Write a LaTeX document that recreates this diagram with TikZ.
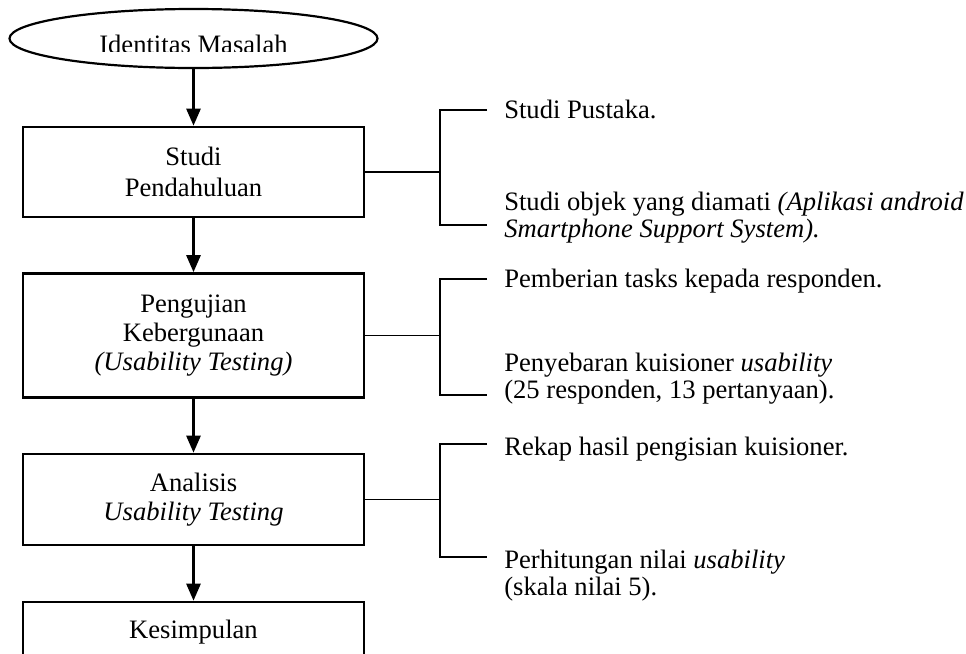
\documentclass[tikz,border=0pt]{standalone}
\usepackage{fontspec}
\setmainfont{Liberation Serif}
\usetikzlibrary{arrows.meta,shapes.geometric}

\begin{document}
\begin{tikzpicture}[x=0.5pt,y=-0.5pt,>={Triangle[length=8.5pt,width=7pt]},line width=1.3pt]
    \tikzstyle{stepbox}=[draw, rectangle, minimum width=170.5pt, align=center, inner sep=0pt, font=\fontsize{13.3}{14.6}\selectfont]
    \tikzstyle{start}=[draw, ellipse, line width=1.1pt, minimum width=184pt, minimum height=29.5pt, inner sep=0pt]
    \tikzstyle{note}=[anchor=base west, align=left, inner sep=0pt, font=\fontsize{13.3}{13.2}\selectfont]
    \tikzstyle{brace}=[line width=0.9pt]

    \useasboundingbox (0,0) rectangle (966,654);

    % alur penelitian
    \node[start] (id) at (193.5,38.5) {};
    \begin{scope}
      \clip (0,0) rectangle (966,51);
      \node[anchor=base, inner sep=0pt, font=\fontsize{13.3}{14.6}\selectfont] (idtext) at (193.5,53) {Identitas Masalah};
    \end{scope}
    \node[stepbox, minimum height=45pt]   (studi)    at (193.5,172)   {Studi\\[1pt]Pendahuluan};
    \node[stepbox, minimum height=62pt]   (uji)      at (193.5,335.5) {Pengujian\\Kebergunaan\\\textit{(Usability Testing)}};
    \node[stepbox, minimum height=45.5pt] (analisis) at (193.5,499.5) {Analisis\\\textit{Usability Testing}};
    \node[stepbox, minimum height=30pt]   (simpul)   at (193.5,632)   {Kesimpulan};
    \path
     (id)       edge[->] (studi)
     (studi)    edge[->] (uji)
     (uji)      edge[->] (analisis)
     (analisis) edge[->] (simpul)
     ;

    % kurung rincian
    \coordinate (studiM) at (440,172);
    \coordinate (studiT) at (440,110);   \coordinate (studiTe) at (487,110);
    \coordinate (studiB) at (440,225);   \coordinate (studiBe) at (487,225);
    \coordinate (ujiM) at (440,335.5);
    \coordinate (ujiT) at (440,279);     \coordinate (ujiTe) at (487,279);
    \coordinate (ujiB) at (440,395);     \coordinate (ujiBe) at (487,395);
    \coordinate (analisisM) at (440,499.5);
    \coordinate (analisisT) at (440,444); \coordinate (analisisTe) at (487,444);
    \coordinate (analisisB) at (440,557); \coordinate (analisisBe) at (487,557);

    \draw[brace] (studi.east) -- (studiM);
    \draw[brace] (studiTe) -- (studiT) -- (studiB) -- (studiBe);
    \draw[brace] (uji.east) -- (ujiM);
    \draw[brace] (ujiTe) -- (ujiT) -- (ujiB) -- (ujiBe);
    \draw[brace] (analisis.east) -- (analisisM);
    \draw[brace] (analisisTe) -- (analisisT) -- (analisisB) -- (analisisBe);

    % teks rincian (base = baris terakhir)
    \node[note] (pustaka) at (503,118) {Studi Pustaka.};
    \node[note] (objek)   at (503,237) {Studi objek yang diamati \textit{(Aplikasi android}\\\textit{Smartphone Support System).}};
    \node[note] (tasks)   at (503,287) {Pemberian tasks kepada responden.};
    \node[note] (sebar)   at (503,398) {Penyebaran kuisioner \textit{usability}\\(25 responden, 13 pertanyaan).};
    \node[note] (rekap)   at (503,455) {Rekap hasil pengisian kuisioner.};
    \node[note] (hitung)  at (503,595) {Perhitungan nilai \textit{usability}\\(skala nilai 5).};
  \end{tikzpicture}
\end{document}
